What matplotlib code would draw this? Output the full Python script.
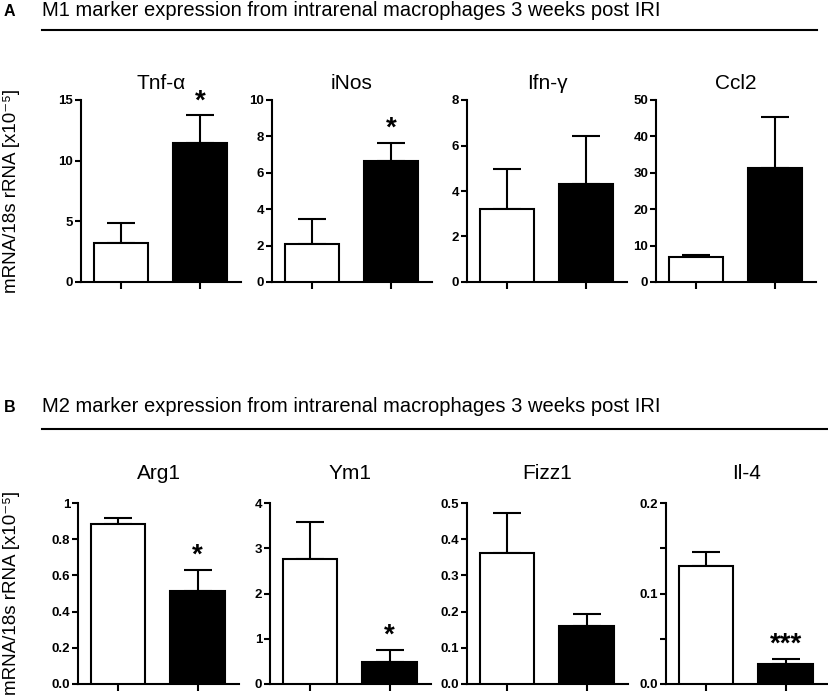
import matplotlib
matplotlib.use("Agg")
import matplotlib.pyplot as plt
import numpy as np

plt.rcParams['font.family'] = ['Liberation Sans', 'DejaVu Sans']

# ---- data ----
genes_a = ["Tnf-\u03b1", "iNos", "Ifn-\u03b3", "Ccl2"]
genes_b = ["Arg1", "Ym1", "Fizz1", "Il-4"]
mean_white_a = [3.22, 2.10, 3.20, 6.8]
err_white_a = [1.63, 1.34, 1.76, 0.65]
mean_black_a = [11.45, 6.63, 4.30, 31.4]
err_black_a = [2.28, 1.02, 2.10, 13.8]
mean_white_b = [0.884, 2.76, 0.361, 0.1306]
err_white_b = [0.031, 0.83, 0.110, 0.0154]
mean_black_b = [0.516, 0.494, 0.161, 0.0221]
err_black_b = [0.115, 0.259, 0.033, 0.0056]
stars_a = ["*", "*", "", ""]
stars_b = ["*", "*", "", "***"]
ymax_a = [15, 10, 8, 50]
ymax_b = [1, 4, 0.5, 0.2]
yticks_a = [[0, 5, 10, 15], [0, 2, 4, 6, 8, 10], [0, 2, 4, 6, 8], [0, 10, 20, 30, 40, 50]]
yticklabels_a = [["0", "5", "10", "15"], ["0", "2", "4", "6", "8", "10"],
                 ["0", "2", "4", "6", "8"], ["0", "10", "20", "30", "40", "50"]]
yticks_b = [[0, 0.2, 0.4, 0.6, 0.8, 1.0], [0, 1, 2, 3, 4],
            [0, 0.1, 0.2, 0.3, 0.4, 0.5], [0, 0.05, 0.1, 0.15, 0.2]]
yticklabels_b = [["0.0", "0.2", "0.4", "0.6", "0.8", "1"], ["0", "1", "2", "3", "4"],
                 ["0.0", "0.1", "0.2", "0.3", "0.4", "0.5"], ["0.0", "", "0.1", "", "0.2"]]
header_a = "M1 marker expression from intrarenal macrophages 3 weeks post IRI"
header_b = "M2 marker expression from intrarenal macrophages 3 weeks post IRI"
ylabel = "mRNA/18s rRNA [x10\u207b\u2075]"

W, H = 829, 699
fig = plt.figure(figsize=(W / 100, H / 100), dpi=100)
LW = 1.5


def px_axes(x0, y_top, w, h):
    return fig.add_axes([x0 / W, 1 - (y_top + h) / H, w / W, h / H])


def draw_panel(ax, title, mw, ew, mb, eb, star, ymax, ticks, labels, pad):
    xs = [0, 1]
    ax.bar(xs, [mw, mb], width=0.68, color=["white", "black"], edgecolor="black",
           linewidth=LW, zorder=3)
    ax.errorbar(xs, [mw, mb], yerr=[[0, 0], [ew, eb]], fmt="none", ecolor="black",
                elinewidth=LW, capsize=10, capthick=LW, zorder=2)
    ax.set_xlim(-0.5, 1.52)
    ax.set_ylim(0, ymax)
    ax.set_xticks(xs)
    ax.set_xticklabels(["", ""])
    ax.set_yticks(ticks)
    ax.set_yticklabels(labels, fontsize=9.5, fontweight="bold")
    ax.tick_params(axis="x", direction="out", length=5, width=LW)
    ax.tick_params(axis="y", direction="out", length=4, width=LW, pad=1.5)
    for s in ["top", "right"]:
        ax.spines[s].set_visible(False)
    for s in ["left", "bottom"]:
        ax.spines[s].set_linewidth(LW)
    ax.set_title(title, fontsize=15, pad=pad)
    if star:
        ax.text(1, mb + eb + ymax * 0.005, star, ha="center", va="bottom",
                fontsize=20, fontweight="bold")


lefts_a = [81, 272, 467, 656]
lefts_b = [78, 270, 467, 666]
for i in range(4):
    ax = px_axes(lefts_a[i], 100, 160, 182)
    draw_panel(ax, genes_a[i], mean_white_a[i], err_white_a[i], mean_black_a[i],
               err_black_a[i], stars_a[i], ymax_a[i], yticks_a[i], yticklabels_a[i], 8)
for i in range(4):
    ax = px_axes(lefts_b[i], 503, 161, 181)
    draw_panel(ax, genes_b[i], mean_white_b[i], err_white_b[i], mean_black_b[i],
               err_black_b[i], stars_b[i], ymax_b[i], yticks_b[i], yticklabels_b[i], 17)

# headers
fig.text(4 / W, 1 - 11 / H, "A", fontsize=11.5, fontweight="bold", va="center", ha="left")
fig.text(42 / W, 1 - 10 / H, header_a, fontsize=14.5, va="center", ha="left")
fig.add_artist(plt.Line2D([42 / W, 817 / W], [1 - 30 / H, 1 - 30 / H], color="black", lw=1.5))
fig.text(4 / W, 1 - 408 / H, "B", fontsize=11.5, fontweight="bold", va="center", ha="left")
fig.text(42 / W, 1 - 407 / H, header_b, fontsize=14.5, va="center", ha="left")
fig.add_artist(plt.Line2D([42 / W, 827 / W], [1 - 429 / H, 1 - 429 / H], color="black", lw=1.5))

fig.text(12 / W, 1 - 191 / H, ylabel, rotation=90, fontsize=13.5, va="center", ha="center")
fig.text(12 / W, 1 - 593 / H, ylabel, rotation=90, fontsize=13.5, va="center", ha="center")

fig.savefig("out.png", dpi=100)
